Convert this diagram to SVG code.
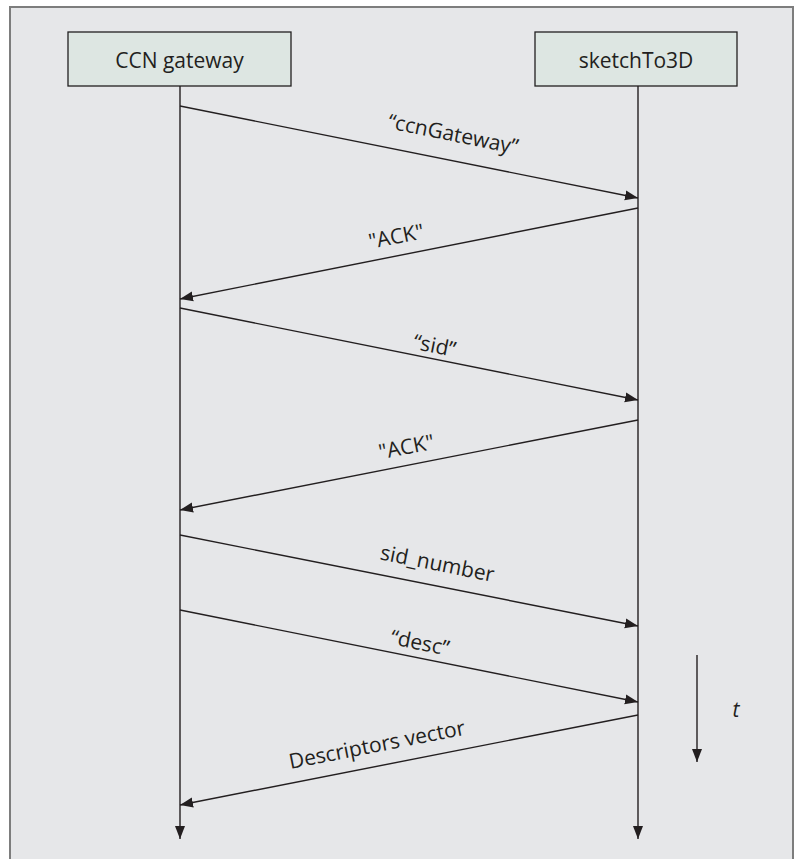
<svg xmlns="http://www.w3.org/2000/svg" width="797" height="859" viewBox="0 0 797 859">
<style>
.frame{fill:#e6e7e9;stroke:#7d7d7d;stroke-width:2}
.box{fill:#dde6e2;stroke:#231f20;stroke-width:1.3}
.lbl{font-family:"Open Sans","Noto Sans","DejaVu Sans",sans-serif;font-size:21px;fill:#231f20;text-anchor:middle}
.ln{stroke:#231f20;stroke-width:1.4;fill:none}
</style>
<defs>
<marker id="ah" markerUnits="userSpaceOnUse" markerWidth="14" markerHeight="12" viewBox="0 0 14 12" refX="13" refY="6" orient="auto">
<path d="M0,1 L13,6 L0,11 Z" fill="#231f20"/>
</marker>
</defs>
<rect x="0" y="0" width="797" height="859" fill="#ffffff"/>
<rect class="frame" x="10" y="7" width="783" height="870"/>
<g id="node-ccn-gateway">
<rect class="box" x="68" y="32" width="223" height="54"/>
<text class="lbl" x="179.5" y="68">CCN gateway</text>
</g>
<g id="node-sketchTo3D">
<rect class="box" x="535" y="32" width="202" height="54"/>
<text class="lbl" x="636" y="68">sketchTo3D</text>
</g>
<g id="connectors">
<line class="ln" x1="180" y1="86" x2="180" y2="839" marker-end="url(#ah)"/>
<line class="ln" x1="638" y1="86" x2="638" y2="839" marker-end="url(#ah)"/>
<line class="ln" x1="180" y1="106" x2="638" y2="198" marker-end="url(#ah)"/>
<line class="ln" x1="638" y1="208" x2="180" y2="299" marker-end="url(#ah)"/>
<line class="ln" x1="180" y1="308" x2="638" y2="400" marker-end="url(#ah)"/>
<line class="ln" x1="638" y1="420" x2="180" y2="510" marker-end="url(#ah)"/>
<line class="ln" x1="180" y1="535" x2="638" y2="626" marker-end="url(#ah)"/>
<line class="ln" x1="180" y1="610" x2="638" y2="702" marker-end="url(#ah)"/>
<line class="ln" x1="638" y1="715" x2="180" y2="805" marker-end="url(#ah)"/>
<line class="ln" x1="697" y1="655" x2="697" y2="762" marker-end="url(#ah)"/>
<g transform="translate(448,159.8) rotate(11.36)"><text class="lbl" x="0" y="-19">“ccnGateway”</text></g>
<g transform="translate(400,255.3) rotate(-11.24)"><text class="lbl" x="0" y="-12">"ACK"</text></g>
<g transform="translate(432,358.6) rotate(11.36)"><text class="lbl" x="0" y="-6">“sid”</text></g>
<g transform="translate(410,464.8) rotate(-11.12)"><text class="lbl" x="0" y="-11">"ACK"</text></g>
<g transform="translate(433,585.3) rotate(11.24)"><text class="lbl" x="0" y="-15">sid_number</text></g>
<g transform="translate(417,657.6) rotate(11.36)"><text class="lbl" x="0" y="-8">“desc”</text></g>
<g transform="translate(381,765.5) rotate(-11.12)"><text class="lbl" x="0" y="-14">Descriptors vector</text></g>
<text class="lbl" x="736" y="717" style="font-style:italic">t</text>
</g>
</svg>
